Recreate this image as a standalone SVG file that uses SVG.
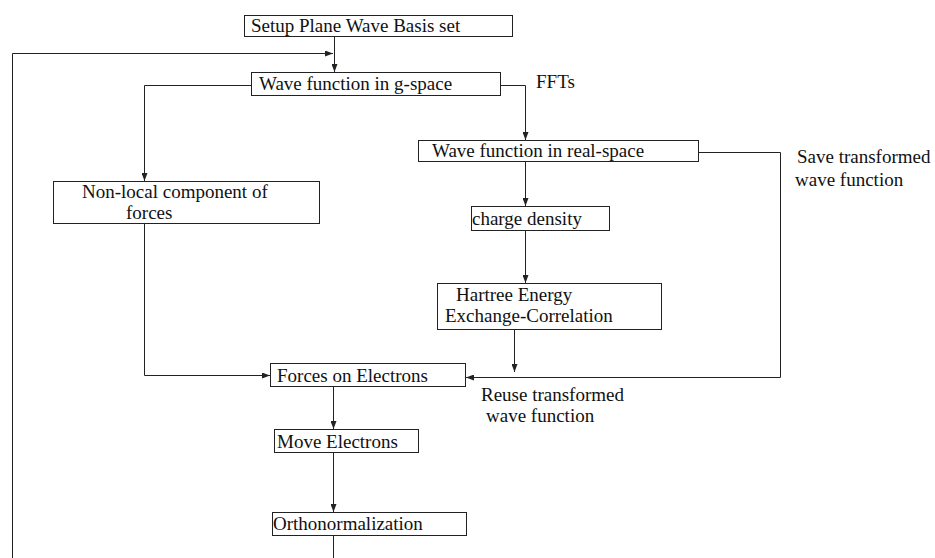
<svg xmlns="http://www.w3.org/2000/svg" width="935" height="558" viewBox="0 0 935 558">
<style>
.box{fill:#fff;stroke:#222;stroke-width:1}
.t{font-family:"Liberation Serif","Times New Roman",serif;font-size:19px;fill:#111}
.c{fill:none;stroke:#222;stroke-width:1}
</style>
<defs>
<marker id="ah" viewBox="0 0 8 6" refX="8" refY="3" markerWidth="8" markerHeight="6" markerUnits="userSpaceOnUse" orient="auto">
<path d="M0,0 L8,3 L0,6 z" fill="#222"/>
</marker>
</defs>
<rect width="935" height="558" fill="#fff"/>
<g id="connectors">
<path class="c" d="M334.5,37 V72" marker-end="url(#ah)"/>
<path class="c" d="M12.5,558 V53.5 H333" marker-end="url(#ah)"/>
<path class="c" d="M251,85.5 H144.5 V181" marker-end="url(#ah)"/>
<path class="c" d="M501,85.5 H525.5 V140" marker-end="url(#ah)"/>
<path class="c" d="M525.5,162 V206" marker-end="url(#ah)"/>
<path class="c" d="M525.5,231 V283" marker-end="url(#ah)"/>
<path class="c" d="M514.5,330 V372" marker-end="url(#ah)"/>
<path class="c" d="M144.5,224 V375.5 H270" marker-end="url(#ah)"/>
<path class="c" d="M699,152.5 H780.5 V377.5 H466" marker-end="url(#ah)"/>
<path class="c" d="M333.5,386 V429" marker-end="url(#ah)"/>
<path class="c" d="M333.5,453 V512" marker-end="url(#ah)"/>
<path class="c" d="M333.5,535 V558"/>
</g>
<g id="setup">
<rect class="box" x="244.5" y="15.5" width="268" height="21"/>
<text class="t" x="251" y="32">Setup Plane Wave Basis set</text>
</g>
<g id="gspace">
<rect class="box" x="251.5" y="72.5" width="249" height="23"/>
<text class="t" x="259" y="90">Wave function in g-space</text>
</g>
<g id="realspace">
<rect class="box" x="418.5" y="140.5" width="280" height="21"/>
<text class="t" x="432" y="157">Wave function in real-space</text>
</g>
<g id="nonlocal">
<rect class="box" x="53.5" y="181.5" width="266" height="42"/>
<text class="t" x="82" y="198">Non-local component of</text>
<text class="t" x="126" y="219">forces</text>
</g>
<g id="charge">
<rect class="box" x="471.5" y="206.5" width="138" height="24"/>
<text class="t" x="472" y="225">charge density</text>
</g>
<g id="hartree">
<rect class="box" x="437.5" y="283.5" width="224" height="46"/>
<text class="t" x="456" y="301">Hartree Energy</text>
<text class="t" x="445" y="322">Exchange-Correlation</text>
</g>
<g id="forces">
<rect class="box" x="270.5" y="363.5" width="195" height="23"/>
<text class="t" x="277" y="382">Forces on Electrons</text>
</g>
<g id="move">
<rect class="box" x="274.5" y="429.5" width="144" height="23"/>
<text class="t" x="277" y="448">Move Electrons</text>
</g>
<g id="ortho">
<rect class="box" x="272.5" y="512.5" width="194" height="23"/>
<text class="t" x="273" y="530">Orthonormalization</text>
</g>
<g id="labels">
<text class="t" x="536" y="88">FFTs</text>
<text class="t" x="797" y="163">Save transformed</text>
<text class="t" x="795" y="186">wave function</text>
<text class="t" x="481" y="401">Reuse transformed</text>
<text class="t" x="486" y="422">wave function</text>
</g>
</svg>
